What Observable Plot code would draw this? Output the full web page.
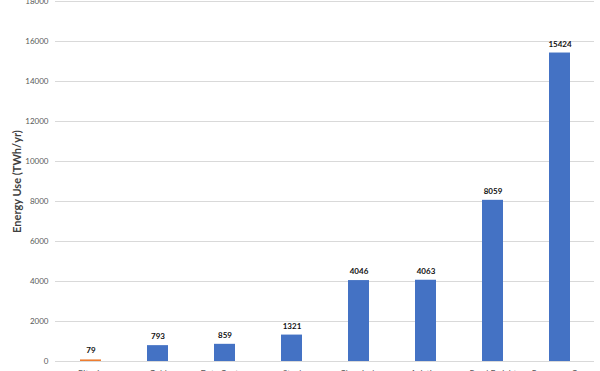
<!DOCTYPE html>
<html>
<head>
<meta charset="utf-8">
<script src="https://cdn.jsdelivr.net/npm/d3@7"></script>
<script src="https://cdn.jsdelivr.net/npm/@observablehq/plot@0.6"></script>
<style>
  html, body { margin: 0; padding: 0; background: #fff; }
  #chart { width: 600px; height: 371px; overflow: hidden; }
  #chart svg { font-family: Lato, "Open Sans", sans-serif; }
  g[aria-label="y-axis label"] text { font-size: 11px; font-weight: bold; fill: #404040; }
</style>
</head>
<body>
<div id="chart"></div>
<script>
// Annual energy use per category, TWh/yr
const categories = ["Bitcoin", "Gold", "Data Centers", "Steel", "Chemicals", "Aviation", "Road Freight", "Passenger Cars"];
const energyUse = [79, 793, 859, 1321, 4046, 4063, 8059, 15424];
const yTicks = [0, 2000, 4000, 6000, 8000, 10000, 12000, 14000, 16000, 18000];

const rows = categories.map((name, i) => ({name, value: energyUse[i], highlight: i === 0}));

const chart = Plot.plot({
  width: 600,
  height: 371,
  marginLeft: 55,
  marginRight: 6,
  marginTop: 1,
  marginBottom: 10,
  style: {fontSize: "8px", color: "#595959", background: "#fff"},
  x: {domain: categories, paddingInner: 0.69, paddingOuter: 0.345, label: null},
  y: {domain: [0, 18000], label: null},
  marks: [
    Plot.gridY(yTicks, {stroke: "#d9d9d9", strokeOpacity: 1}),
    Plot.axisY(yTicks, {tickSize: 0, tickPadding: 7, fill: "#595959", tickFormat: d => String(d), label: "Energy Use (TWh/yr)", labelAnchor: "center", labelArrow: "none", labelOffset: 42}),
    Plot.axisX({tickSize: 0, tickPadding: 9, fill: "#595959", fontSize: 8.5}),
    Plot.barY(rows, {x: "name", y: "value", fill: d => d.highlight ? "#ed7d31" : "#4472c4"}),
    Plot.ruleY([0], {stroke: "#d9d9d9"}),
    Plot.text(rows, {x: "name", y: "value", text: d => String(d.value), dy: -9, fill: "#111", fontWeight: "bold", fontSize: 8})
  ]
});
document.getElementById("chart").append(chart);
</script>
</body>
</html>
